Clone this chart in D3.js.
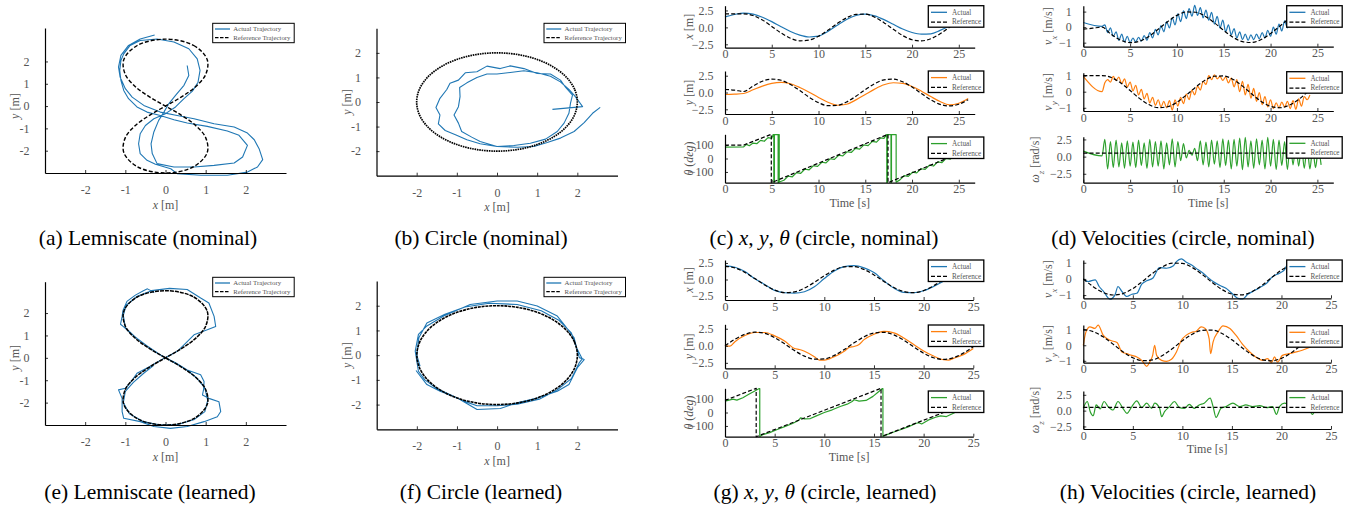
<!DOCTYPE html>
<html>
<head>
<meta charset="utf-8">
<script src="https://cdn.jsdelivr.net/npm/d3@7"></script>
<style>
  body { margin: 0; background: #fff; }
  svg text { font-family: "Liberation Serif", "Times New Roman", serif; }
  .ax path.domain { stroke: #000; stroke-width: 1.2; }
  .ax .tick line { stroke: #000; stroke-width: 0.8; }
  .ax .tick text { fill: #555; font-size: 12px; font-family: "Liberation Serif", serif; }
  .lab { fill: #555; font-size: 12px; }
  .leg text { fill: #555; }
  .cap { fill: #000; font-size: 21.5px; }
</style>
</head>
<body>
<script>
// ---- trajectories (x, y in m) ----
const lemRef = [[0,3],[0.703,2.716],[1.039,2.078],[1.0,1.414],[0.742,0.857],[0.388,0.402],[0,0],[-0.388,-0.402],[-0.742,-0.857],[-1.0,-1.414],[-1.039,-2.078],[-0.703,-2.716],[0,-3],[0.703,-2.716],[1.039,-2.078],[1.0,-1.414],[0.742,-0.857],[0.388,-0.402],[0,0],[-0.388,0.402],[-0.742,0.857],[-1.0,1.414],[-1.039,2.078],[-0.703,2.716]];
const circRef = [[2,0],[1.932,0.518],[1.732,1],[1.414,1.414],[1,1.732],[0.518,1.932],[0,2],[-0.518,1.932],[-1,1.732],[-1.414,1.414],[-1.732,1],[-1.932,0.518],[-2,0],[-1.932,-0.518],[-1.732,-1],[-1.414,-1.414],[-1,-1.732],[-0.518,-1.932],[0,-2],[0.518,-1.932],[1,-1.732],[1.414,-1.414],[1.732,-1],[1.932,-0.518]];

const lemActNom = [[0.54,1.82],[0.58,1.37],[0.46,0.93],[0.25,0.48],[0.08,0.10],[-0.04,-0.27],[-0.17,-0.64],[-0.29,-1.16],[-0.36,-1.69],[-0.33,-2.13],[-0.21,-2.58],[0.21,-2.73],[0.71,-2.73],[1.21,-2.66],[1.71,-2.55],[1.92,-2.28],[2.04,-1.76],[1.83,-1.31],[1.54,-1.12],[1.04,-0.91],[0.54,-0.76],[0.21,-0.61],[-0.13,-0.42],[-0.46,-0.27],[-0.71,-0.04],[-0.92,0.33],[-1.04,0.70],[-1.11,1.15],[-1.14,1.60],[-1.11,2.04],[-1.04,2.34],[-0.88,2.72],[-0.63,2.94],[-0.21,3.01],[0.21,2.87],[0.58,2.57],[0.79,2.12],[0.86,1.60],[0.81,1.07],[0.67,0.67],[0.46,0.33],[0.25,-0.04],[0,-0.34],[-0.29,-0.57],[-0.50,-0.87],[-0.63,-1.24],[-0.67,-1.69],[-0.63,-2.13],[-0.46,-2.43],[-0.25,-2.61],[0.13,-2.81],[0.29,-3.03],[0.88,-3.10],[1.54,-3.10],[2.04,-2.96],[2.29,-2.73],[2.42,-2.40],[2.33,-1.91],[2.21,-1.51],[2.04,-1.21],[1.71,-0.94],[1.21,-0.79],[0.71,-0.57],[0.29,-0.42],[-0.13,-0.27],[-0.54,0.03],[-0.83,0.40],[-1.0,0.78],[-1.13,1.30],[-1.17,1.75],[-1.11,2.27],[-0.92,2.72],[-0.63,3.01],[-0.27,3.19]];

const circActNom = [[2.57,-0.22],[2.38,-0.46],[2.17,-0.84],[1.92,-1.20],[1.58,-1.47],[1.25,-1.65],[0.92,-1.81],[0.50,-1.84],[0,-1.81],[-0.42,-1.70],[-0.75,-1.54],[-1.02,-1.34],[-1.29,-1.16],[-1.46,-0.89],[-1.42,-0.53],[-1.52,-0.22],[-1.42,0.15],[-1.25,0.51],[-1.17,0.76],[-0.96,0.89],[-0.79,1.19],[-0.50,1.23],[-0.25,1.46],[0.08,1.36],[0.33,1.47],[0.67,1.36],[1.0,1.16],[1.33,1.14],[1.58,0.89],[1.71,0.59],[1.88,0.28],[1.83,-0.05],[1.79,-0.46],[1.67,-0.86],[1.5,-1.20],[1.21,-1.51],[0.83,-1.68],[0.42,-1.77],[0,-1.81],[-0.42,-1.61],[-0.63,-1.43],[-0.88,-1.20],[-0.96,-0.86],[-1.07,-0.53],[-0.96,-0.19],[-0.92,0.22],[-0.93,0.59],[-0.75,0.78],[-0.5,1.0],[-0.25,1.14],[0,1.14],[0.33,1.20],[0.67,1.27],[1.0,1.19],[1.33,1.05],[1.58,0.82],[1.79,0.51],[1.92,0.28],[2.0,0.11],[2.13,-0.19],[1.38,-0.30]];

const lemActLrn = [[-0.28,2.92],[-0.45,3.08],[-0.55,3.0],[-0.75,2.8],[-0.96,2.52],[-1.06,2.1],[-1.08,1.85],[-1.12,1.5],[-1.04,1.38],[-0.9,1.15],[-0.7,0.85],[-0.45,0.52],[-0.2,0.2],[0,0],[0.25,-0.22],[0.54,-0.54],[0.875,-0.76],[0.96,-1.06],[0.95,-1.4],[0.92,-1.66],[1.08,-1.81],[1.33,-1.96],[1.375,-2.4],[1.29,-2.63],[0.96,-2.85],[0.54,-3.07],[0.125,-3.15],[-0.29,-3.07],[-0.625,-2.85],[-1.04,-2.7],[-1.08,-2.4],[-1.08,-1.81],[-1.17,-1.43],[-1.0,-1.36],[-0.85,-1.05],[-0.71,-0.69],[-0.4,-0.4],[-0.1,-0.08],[0.1,0.1],[0.3,0.3],[0.46,0.58],[0.71,1.03],[1.04,1.25],[1.25,1.4],[1.21,1.85],[1.08,2.45],[0.875,2.67],[0.54,3.05],[0.1,3.1],[-0.35,3.0],[-0.7,2.75],[-0.98,2.35],[-1.05,1.9],[-1.0,1.35],[-0.75,0.92],[-0.42,0.48],[-0.1,0.1],[0.2,-0.2],[0.5,-0.5],[0.78,-0.9],[0.98,-1.35],[1.05,-1.9],[0.98,-2.4],[0.72,-2.75],[0.3,-2.98],[-0.15,-3.0],[-0.55,-2.85],[-0.9,-2.5],[-1.05,-2.0],[-1.0,-1.5],[-0.8,-1.1],[-0.55,-0.7],[-0.3,-0.35]];

const circActLrn = [[-2.02,-0.62],[-1.75,-1.19],[-1.42,-1.46],[-1.0,-1.72],[-0.5,-2.2],[0.08,-2.16],[0.5,-1.93],[1.0,-1.73],[1.5,-1.46],[1.79,-1.19],[2.0,-0.51],[2.17,-0.18],[2.05,-0.1],[2.0,0.16],[1.92,0.7],[1.67,1.24],[1.5,1.58],[1.0,1.99],[0.5,2.19],[0,2.19],[-0.67,2.05],[-1.33,1.58],[-1.75,1.18],[-1.96,0.84],[-2.04,0.16],[-1.96,-0.65],[-1.8,-1.0],[-1.5,-1.35],[-1.1,-1.65],[-0.83,-1.86],[-0.5,-2.05],[0,-2.05],[0.5,-1.98],[1.05,-1.78],[1.5,-1.4],[1.85,-0.95],[2.05,-0.3],[2.12,-0.15],[1.98,0.3],[1.85,0.9],[1.55,1.4],[1.1,1.8],[0.5,2.05],[-0.2,2.1],[-0.8,1.95],[-1.3,1.65],[-1.75,1.3],[-1.95,0.7],[-2.0,0.0],[-1.92,-0.45]];

// ---- nominal run, time series (one value per second unless noted) ----
const xRefNom = [2,2,2,1.755,1.081,0.141,-0.832,-1.602,-1.98,-1.873,-1.307,-0.422,0.567,1.417,1.92,1.953,1.508,0.693,-0.291,-1.204,-1.822,-1.994,-1.678,-0.951,0.009,0.967,1.688];
const xActNom = [1.55,1.9,2.1,1.95,1.5,0.85,0.1,-0.6,-1.15,-1.42,-1.3,-0.6,0.3,1.15,1.75,1.95,1.7,1.15,0.45,-0.25,-0.75,-1.0,-0.95,-0.45,0.2,0.9,1.4];
const yRefNom = [0.45,0.35,0.15,0.959,1.683,1.995,1.819,1.197,0.282,-0.702,-1.514,-1.955,-1.918,-1.411,-0.559,0.43,1.314,1.876,1.979,1.597,0.824,-0.15,-1.088,-1.759,-2.0,-1.751,-1.073];
const yActNom = [-0.3,-0.25,-0.15,0.4,0.95,1.35,1.5,1.3,0.75,0.05,-0.75,-1.45,-1.9,-1.75,-1.1,-0.3,0.5,1.15,1.45,1.35,0.9,0.2,-0.6,-1.35,-1.85,-1.6,-0.9];
const thRefNom = [[0,100],[2,100],[4.95,180],[4.95,-180],[17.43,180],[17.43,-180],[26.7,86]];
const thActNom = [[0,85],[2,87],[2.3,105],[2.6,95],[3.0,115],[3.4,110],[3.8,135],[4.2,128],[4.6,155],[5.0,150],[5.15,178],
  [5.22,178],[5.22,-178],[5.28,-178],[5.28,178],[5.68,178],[5.68,-178],[5.74,-178],[5.74,178],[5.8,178],[5.8,-175],
  [6.3,-162],[6.75,-131],[7.2,-136],[7.65,-105],[8.1,-110],[8.55,-79],[9.0,-84],[9.45,-54],[9.9,-59],[10.35,-28],[10.8,-33],[11.25,-2],[11.7,-7],[12.15,24],[12.6,19],[13.05,50],[13.5,45],[13.95,75],[14.4,70],[14.85,101],[15.3,96],[15.75,127],[16.2,122],[16.65,153],[17.0,150],[17.25,176],
  [17.3,178],[17.3,-178],[17.36,-178],[17.36,178],[17.75,178],[17.75,-178],[17.8,-178],[17.8,178],[18.3,178],[18.3,-176],
  [18.7,-159],[19.15,-128],[19.6,-133],[20.05,-102],[20.5,-107],[20.95,-76],[21.4,-81],[21.85,-50],[22.3,-56],[22.75,-25],[23.2,-30],[23.65,1],[24.1,-4],[24.55,27],[25.0,22],[25.45,53],[25.9,48],[26.35,79],[26.7,75]];

const vxRefNom = [-0.13,-0.07,0,-0.479,-0.841,-0.998,-0.909,-0.599,-0.141,0.351,0.757,0.978,0.959,0.706,0.279,-0.215,-0.657,-0.938,-0.989,-0.799,-0.412,0.075,0.544,0.88,1.0,0.876,0.537];
const vyRefNom = [1,1,1,0.878,0.54,0.071,-0.416,-0.801,-0.99,-0.937,-0.654,-0.211,0.284,0.709,0.96,0.977,0.754,0.347,-0.146,-0.602,-0.911,-0.997,-0.839,-0.476,0.004,0.479,0.841];
const wRefNom = [[0,0.5],[26.7,0.5]];
// sampled every 0.3 s from t = 2 s; the first point is the value at t = 0
const vxActNom = [0.3, 0.05,0.15,-0.35,-0.05,-0.6,-0.3,-0.85,-0.45,-0.95,-0.6,-1.0,-0.7,-0.95,-0.65,-0.9,-0.55,-0.85,-0.35,-0.7,-0.15,-0.5,0.1,-0.3,0.35,-0.05,0.6,0.15,0.85,0.35,1.05,0.55,1.2,0.7,1.4,0.75,1.25,0.6,1.1,0.45,0.95,0.2,0.7,-0.05,0.45,-0.3,0.15,-0.5,-0.1,-0.7,-0.3,-0.8,-0.45,-0.85,-0.5,-0.8,-0.45,-0.75,-0.35,-0.7,-0.2,-0.6,0.0,-0.45,0.2,-0.25,0.4,-0.05,0.55,0.15,0.7,0.3,0.8,0.4,0.85];
const vyActNom = [0.95, 0.0,0.55,0.75,0.6,0.95,0.7,0.9,0.5,0.8,0.3,0.6,0.05,0.4,-0.2,0.15,-0.45,-0.1,-0.7,-0.35,-0.85,-0.5,-0.95,-0.6,-1.0,-0.55,-1.15,-0.5,-0.9,-0.35,-0.75,-0.15,-0.5,0.1,-0.2,0.35,0.1,0.65,0.45,1.0,0.75,1.05,0.8,0.95,0.7,0.9,0.55,0.85,0.3,0.75,0.0,0.65,-0.2,0.45,-0.4,0.2,-0.6,-0.05,-0.8,-0.3,-0.95,-0.5,-1.05,-0.7,-1.0,-0.65,-0.95,-0.6,-1.05,-0.55,-1.1,-0.45,-0.9,-0.3,-0.5,-0.2];
const wActNom = [0.8, 0.1,2.5,-1.8,2.2,-1.6,2.4,-1.5,2.0,-1.7,2.3,-1.4,2.1,-1.6,2.4,-1.3,2.0,-1.7,2.5,-1.5,2.2,-1.4,2.3,-1.8,2.0,-1.2,2.6,-1.5,2.2,-0.6,1.9,-0.2,0.9,0.2,1.2,-0.6,2.3,-1.2,2.1,-1.5,2.4,-1.1,2.3,-1.6,2.6,-1.3,2.4,-1.8,2.5,-1.4,2.7,-1.9,2.8,-1.5,2.3,-1.7,2.6,-1.2,2.4,-1.8,2.8,-1.4,2.5,-1.9,2.4,-1.3,2.2,-1.9,2.3,-1.2,1.8,-1.4,1.6,-1.7,1.5,-1.8,1.2,-1.6,1.0,-1.2];

// ---- learned run ----
const xRefLrn = [2,1.755,1.081,0.141,-0.832,-1.602,-1.98,-1.873,-1.307,-0.422,0.567,1.417,1.92,1.953,1.508,0.693,-0.291,-1.204,-1.822,-1.994,-1.678,-0.951,0.009,0.967,1.688,1.996];
const xActLrn = [2.05,1.85,1.2,0.1,-0.75,-1.65,-2.0,-2.05,-1.85,-1.1,0.15,1.3,1.95,2.1,1.75,1.05,-0.2,-1.3,-1.95,-2.0,-1.7,-1.05,-0.25,0.55,1.3,1.85];
const yRefLrn = [0,0.959,1.683,1.995,1.819,1.197,0.282,-0.702,-1.514,-1.955,-1.918,-1.411,-0.559,0.43,1.314,1.876,1.979,1.597,0.824,-0.15,-1.088,-1.759,-2.0,-1.751,-1.073,-0.133];
const yActLrn = [[0,0],[0.5,-0.05],[1,0.6],[2,1.5],[3,1.95],[4,1.95],[5,1.45],[6,0.7],[7,-0.4],[7.5,-0.55],[8,-0.8],[9,-1.6],[9.5,-2.1],[10,-2.1],[11,-1.6],[12,-0.8],[12.5,-0.25],[13,-0.1],[13.5,0.2],[14,0.9],[15,1.7],[16,2.1],[17,1.9],[18,1.15],[19,0.2],[20,-0.75],[21,-1.5],[22,-2.05],[22.5,-2.1],[23,-1.85],[24,-1.3],[25,-0.4]];
const thRefLrn = [[0,90],[3.14,180],[3.14,-180],[15.71,180],[15.71,-180],[25,86]];
const thActLrn = [[0,85],[0.8,100],[1.2,92],[1.8,110],[2.4,135],[3.0,160],[3.45,178],[3.5,178],[3.5,-178],[3.8,-165],[4.5,-150],[5.2,-128],[6.0,-105],[6.8,-82],[7.4,-60],[7.6,-40],[8.0,-48],[8.6,-45],[9.2,-25],[10,0],[10.8,20],[11.6,45],[12.3,62],[12.8,82],[13.0,95],[13.5,85],[14.2,90],[14.9,120],[15.4,150],[15.85,178],[15.9,178],[15.9,-178],[16.3,-165],[17,-145],[17.8,-125],[18.5,-105],[19.2,-82],[19.5,-75],[19.8,-85],[20.5,-55],[21.2,-35],[21.7,-25],[22.3,-30],[23,-5],[24,30],[25,60]];

const vxRefLrn = [0,-0.479,-0.841,-0.997,-0.909,-0.598,-0.141,0.351,0.757,0.978,0.959,0.706,0.279,-0.215,-0.657,-0.938,-0.989,-0.799,-0.412,0.075,0.544,0.88,1.0,0.876,0.537,0.066];
const vyRefLrn = [1,0.878,0.54,0.071,-0.416,-0.801,-0.99,-0.937,-0.654,-0.211,0.284,0.709,0.96,0.977,0.754,0.347,-0.146,-0.602,-0.911,-0.997,-0.839,-0.476,0.004,0.483,0.844,0.998];
const wRefLrn = [[0,0.5],[25,0.5]];
const vxActLrn = [[0,0],[0.5,-0.16],[1.2,-0.06],[1.6,-0.47],[2.0,-0.74],[2.7,-1.26],[3.2,-0.99],[3.5,-0.47],[3.9,-0.78],[4.4,-1.09],[4.9,-0.95],[5.4,-0.89],[5.9,-0.33],[6.4,-0.12],[7.0,0.04],[7.7,0.7],[8.4,0.66],[9.1,0.82],[9.4,1.07],[9.9,1.24],[10.4,1.03],[10.9,0.87],[11.6,0.56],[12.1,0.35],[12.6,0.08],[13.1,-0.16],[13.8,-0.41],[14.4,-0.58],[15.1,-0.95],[15.6,-1.2],[16.1,-1.24],[16.6,-0.95],[17.1,-0.78],[17.8,-0.54],[18.5,-0.27],[19.1,0.14],[19.8,0.35],[20.3,0.56],[20.8,1.07],[21.5,0.95],[22.3,1.1]];
const vyActLrn = [[0,0],[0.27,0.86],[0.67,1.18],[1.17,1.08],[1.5,1.29],[2.0,0.65],[2.7,0.32],[3.4,0.17],[3.9,-0.43],[4.4,-0.54],[4.9,-0.65],[5.4,-0.75],[5.9,-0.97],[6.4,-1.35],[6.7,-1.08],[7.0,-0.65],[7.2,0.0],[7.4,-0.65],[7.9,-0.97],[8.4,-1.03],[8.9,-0.9],[9.4,-0.43],[9.9,0.32],[10.4,0.65],[10.9,0.82],[11.4,0.9],[11.9,1.18],[12.3,1.08],[12.7,0.43],[12.85,-0.54],[13.1,0.22],[13.6,0.86],[14.1,1.25],[14.8,1.08],[15.4,0.65],[16.1,0.04],[16.8,-0.43],[17.4,-0.75],[18.1,-0.97],[18.6,-0.86],[19.0,-1.12],[19.3,-0.75],[19.6,-1.08],[20.1,-0.65],[20.8,-0.54],[21.5,-0.43],[22.1,-0.32],[23,-0.1]];
const wActLrn = [[0,0.37],[0.4,1.44],[0.7,-0.16],[1.0,-0.8],[1.3,0.9],[1.7,0.27],[2.1,1.44],[2.5,0.64],[3.0,0.1],[3.5,1.44],[4.0,0.37],[4.4,-0.43],[4.9,0.64],[5.4,1.54],[5.9,0.48],[6.4,1.17],[6.9,0.37],[7.2,1.17],[7.7,0.37],[7.9,-0.96],[8.2,-0.16],[8.7,0.64],[9.2,1.44],[9.7,0.48],[10.2,0.37],[10.7,1.0],[11.2,0.37],[11.7,0.9],[12.2,1.17],[12.8,1.97],[13.1,0.64],[13.4,-1.06],[13.9,0.37],[14.4,0.64],[15.1,1.17],[15.8,0.64],[16.4,0.9],[17.1,0.64],[17.8,0.8],[18.5,0.48],[19.1,0.64],[19.5,-0.59],[19.8,0.64],[20.3,1.17],[20.8,0.9],[21.4,-0.2],[22,0.9],[22.8,0.3],[23.1,-0.6],[23.5,0.5]];

// ---- labels ----
const trajTicks = [-2, -1, 0, 1, 2];
const timeTicks = [0, 5, 10, 15, 20, 25];
const posTicks = [-2.5, 0, 2.5];
const angTicks = [-100, 0, 100];
const velTicks = [-1, 0, 1];
const captions = [
  {x: 148, y: 245, parts: [["(a) Lemniscate (nominal)"]]},
  {x: 481, y: 245, parts: [["(b) Circle (nominal)"]]},
  {x: 824, y: 245, parts: [["(c) "], ["x", "i"], [", "], ["y", "i"], [", "], ["θ", "i"], [" (circle, nominal)"]]},
  {x: 1183, y: 245, parts: [["(d) Velocities (circle, nominal)"]]},
  {x: 150, y: 499, parts: [["(e) Lemniscate (learned)"]]},
  {x: 481, y: 499, parts: [["(f) Circle (learned)"]]},
  {x: 825, y: 499, parts: [["(g) "], ["x", "i"], [", "], ["y", "i"], [", "], ["θ", "i"], [" (circle, learned)"]]},
  {x: 1188, y: 499, parts: [["(h) Velocities (circle, learned)"]]}
];

const blue = "#1f77b4", orange = "#ff7f0e", green = "#2ca02c";

const svg = d3.select("body").append("svg").attr("width", 1367).attr("height", 508);

function rich(sel, parts) {
  parts.forEach(([t, s]) => {
    const ts = sel.append("tspan").text(t);
    if (s && s.includes("i")) ts.attr("font-style", "italic");
    if (s && s.includes("s")) ts.attr("baseline-shift", "sub").attr("font-size", "75%");
  });
}

function legend(L, items, fs) {
  const g = svg.append("g").attr("class", "leg");
  g.append("rect").attr("x", L.x).attr("y", L.y).attr("width", L.w).attr("height", L.h)
    .attr("fill", "#fff").attr("stroke", "#000").attr("stroke-width", L.sw);
  items.forEach((it, i) => {
    const yy = L.y + L.ly[i];
    g.append("line").attr("x1", L.x + L.pad).attr("x2", L.x + L.pad + L.len)
      .attr("y1", yy).attr("y2", yy).attr("stroke", it.color).attr("stroke-width", 1.3)
      .attr("stroke-dasharray", it.dash || null);
    g.append("text").attr("x", L.x + L.tx).attr("y", yy + fs * 0.33).attr("font-size", fs).text(it.label);
  });
}

const hyph = d => d < 0 ? "-" + (-d) : String(d);

function trajectory(p) {
  const x = d3.scaleLinear().domain([-3, 3]).range([p.l, p.r]);
  const y = d3.scaleLinear().domain(p.yDom).range([p.b, p.t]);
  const act = d3.line().x(d => x(d[0])).y(d => y(d[1]));
  const ref = d3.line().x(d => x(d[0])).y(d => y(d[1])).curve(d3.curveCatmullRomClosed);
  svg.append("path").datum(p.act).attr("d", act).attr("fill", "none")
    .attr("stroke", blue).attr("stroke-width", 1.1).attr("stroke-linejoin", "round");
  svg.append("path").datum(p.ref).attr("d", ref).attr("fill", "none")
    .attr("stroke", "#000").attr("stroke-width", p.rw).attr("stroke-dasharray", p.dash);

  svg.append("g").attr("class", "ax").attr("transform", `translate(0,${p.b})`)
    .call(d3.axisBottom(x).tickValues(trajTicks).tickSize(-3).tickSizeOuter(0).tickPadding(12.5).tickFormat(hyph));
  svg.append("g").attr("class", "ax").attr("transform", `translate(${p.l},0)`)
    .call(d3.axisLeft(y).tickValues(trajTicks).tickSize(-3).tickSizeOuter(0).tickPadding(15.5).tickFormat(hyph));

  const xl = svg.append("text").attr("class", "lab").attr("text-anchor", "middle")
    .attr("x", x(0)).attr("y", p.b + 35.5);
  rich(xl, [["x", "i"], [" [m]"]]);
  const yl = svg.append("text").attr("class", "lab").attr("text-anchor", "middle")
    .attr("transform", `translate(${p.l - 26},${y(0)}) rotate(-90)`);
  rich(yl, [["y", "i"], [" [m]"]]);

  legend({x: p.lx, y: p.ly, w: 81.5, h: 19.4, sw: 1, ly: [5.7, 14.4], pad: 2.3, len: 15, tx: 20.6},
    [{label: "Actual Trajectory", color: blue}, {label: "Reference Trajectory", color: "#000", dash: "3.5,1.5"}], 6.8);
}

function series(p) {
  const x = d3.scaleLinear().domain(p.xDom).range([p.l, p.r]);
  const y = d3.scaleLinear().domain(p.yDom).range([p.b, p.t]);
  p.lines.forEach(s => {
    const line = d3.line().x(d => x(d[0])).y(d => y(d[1])).curve(s.curve || d3.curveMonotoneX);
    svg.append("path").datum(s.data).attr("d", line).attr("fill", "none")
      .attr("stroke", s.color).attr("stroke-width", s.w || 1.2)
      .attr("stroke-linejoin", "round").attr("stroke-dasharray", s.dash || null);
  });
  svg.append("g").attr("class", "ax").attr("transform", `translate(0,${p.b})`)
    .call(d3.axisBottom(x).tickValues(timeTicks).tickSize(-3).tickSizeOuter(0).tickPadding(2.1).tickFormat(d3.format("d")));
  svg.append("g").attr("class", "ax").attr("transform", `translate(${p.l},0)`)
    .call(d3.axisLeft(y).tickValues(p.ticks).tickSize(-3).tickSizeOuter(0).tickPadding(11.5).tickFormat(d3.format(p.fmt)));
  const yl = svg.append("text").attr("class", "lab").attr("text-anchor", "middle")
    .attr("transform", `translate(${p.labX},${(p.t + p.b) / 2}) rotate(-90)`);
  rich(yl, p.label);
  if (p.time) {
    svg.append("text").attr("class", "lab").attr("text-anchor", "middle")
      .attr("x", (p.l + p.r) / 2).attr("y", p.b + 24).text("Time [s]");
  }
  legend({x: p.legX, y: p.legY, w: 55.5, h: 21.5, sw: 1.3, ly: [6.6, 16.4], pad: 2.7, len: 16, tx: 23.7},
    [{label: "Actual", color: p.lines[0].color}, {label: "Reference", color: "#000", dash: "4,2"}], 7.2);
}

const perSecond = a => a.map((v, i) => [i, v]);
const fromTwo = a => a.map((v, i) => [i === 0 ? 0 : 2 + (i - 1) * 0.3, v]);
const dashed = "4,2.2";

// (a) (b) (e) (f)
trajectory({l: 45, r: 286, t: 28, b: 173, yDom: [-3, 3.5], act: lemActNom, ref: lemRef, dash: "4,2", rw: 1.4, lx: 212.7, ly: 23.3});
trajectory({l: 376.5, r: 617.5, t: 28.3, b: 175.7, yDom: [-3, 3], act: circActNom, ref: circRef, dash: "1.6,0.8", rw: 1.7, lx: 544, ly: 23.3});
trajectory({l: 45, r: 286, t: 281.7, b: 425, yDom: [-3, 3.4], act: lemActLrn, ref: lemRef, dash: "4,1", rw: 1.5, lx: 212.7, ly: 277.3});
trajectory({l: 376.7, r: 617.5, t: 281, b: 429.3, yDom: [-3, 3], act: circActLrn, ref: circRef, dash: "3,0.8", rw: 1.6, lx: 544, ly: 277.3});

// (c)
const cx = {l: 725, r: 974.7, xDom: [0, 26.7], labX: 693, legX: 928.3};
series({...cx, t: 5.7, b: 47.7, yDom: [-3.0, 3.2], ticks: posTicks, fmt: ".1f", label: [["x", "i"], [" [m]"]], legY: 5.7,
  lines: [{data: perSecond(xActNom), color: blue}, {data: perSecond(xRefNom), color: "#000", dash: dashed}]});
series({...cx, t: 71, b: 114, yDom: [-3.2, 3.2], ticks: posTicks, fmt: ".1f", label: [["y", "i"], [" [m]"]], legY: 71,
  lines: [{data: perSecond(yActNom), color: orange}, {data: perSecond(yRefNom), color: "#000", dash: dashed}]});
series({...cx, t: 134.3, b: 182.7, yDom: [-180, 180], ticks: angTicks, fmt: "d", label: [["θ", "i"], [" ("], ["deg", "i"], [")"]], legY: 137, time: true,
  lines: [{data: thActNom, color: green, curve: d3.curveLinear}, {data: thRefNom, color: "#000", dash: dashed, curve: d3.curveLinear}]});

// (d)
const dx = {l: 1083.3, r: 1333.3, xDom: [0, 26.7], legX: 1286.7};
series({...dx, t: 5.7, b: 46.7, yDom: [-1.26, 1.38], ticks: velTicks, fmt: "d", labX: 1052, label: [["v", "i"], ["x", "is"], [" [m/s]"]], legY: 5.7,
  lines: [{data: fromTwo(vxActNom), color: blue}, {data: perSecond(vxRefNom), color: "#000", dash: dashed}]});
series({...dx, t: 72.7, b: 111, yDom: [-1.2, 1.18], ticks: velTicks, fmt: "d", labX: 1052, label: [["v", "i"], ["y", "is"], [" [m/s]"]], legY: 71.7,
  lines: [{data: fromTwo(vyActNom), color: orange}, {data: perSecond(vyRefNom), color: "#000", dash: dashed}]});
series({...dx, t: 136.7, b: 182.7, yDom: [-3.8, 2.9], ticks: posTicks, fmt: ".1f", labX: 1039, label: [["ω", "i"], ["z", "is"], [" [rad/s]"]], legY: 136.7, time: true,
  lines: [{data: fromTwo(wActNom), color: green}, {data: wRefNom, color: "#000", dash: dashed}]});

// (g)
const gx = {l: 725, r: 973.3, xDom: [0, 25], labX: 693, legX: 928.3};
series({...gx, t: 260, b: 300, yDom: [-3.1, 2.95], ticks: posTicks, fmt: ".1f", label: [["x", "i"], [" [m]"]], legY: 260,
  lines: [{data: perSecond(xActLrn), color: blue}, {data: perSecond(xRefLrn), color: "#000", dash: dashed}]});
series({...gx, t: 324.3, b: 368.3, yDom: [-3.3, 3.15], ticks: posTicks, fmt: ".1f", label: [["y", "i"], [" [m]"]], legY: 325,
  lines: [{data: yActLrn, color: orange}, {data: perSecond(yRefLrn), color: "#000", dash: dashed}]});
series({...gx, t: 388.3, b: 436.7, yDom: [-180, 180], ticks: angTicks, fmt: "d", label: [["θ", "i"], [" ("], ["deg", "i"], [")"]], legY: 391, time: true,
  lines: [{data: thActLrn, color: green, curve: d3.curveLinear}, {data: thRefLrn, color: "#000", dash: dashed, curve: d3.curveLinear}]});

// (h)
const hx = {l: 1083.3, r: 1331, xDom: [0, 25], legX: 1286.7};
series({...hx, t: 260, b: 298.3, yDom: [-1.2, 1.17], ticks: velTicks, fmt: "d", labX: 1052, label: [["v", "i"], ["x", "is"], [" [m/s]"]], legY: 260,
  lines: [{data: vxActLrn, color: blue}, {data: perSecond(vxRefLrn), color: "#000", dash: dashed}]});
series({...hx, t: 325, b: 362.7, yDom: [-1.12, 1.3], ticks: velTicks, fmt: "d", labX: 1052, label: [["v", "i"], ["y", "is"], [" [m/s]"]], legY: 325.7,
  lines: [{data: vyActLrn, color: orange}, {data: perSecond(vyRefLrn), color: "#000", dash: dashed}]});
series({...hx, t: 391, b: 429, yDom: [-2.9, 3.1], ticks: posTicks, fmt: ".1f", labX: 1039, label: [["ω", "i"], ["z", "is"], [" [rad/s]"]], legY: 391, time: true,
  lines: [{data: wActLrn, color: green}, {data: wRefLrn, color: "#000", dash: dashed}]});

// captions
captions.forEach(c => {
  const t = svg.append("text").attr("class", "cap").attr("text-anchor", "middle").attr("x", c.x).attr("y", c.y);
  rich(t, c.parts);
});
</script>
</body>
</html>
